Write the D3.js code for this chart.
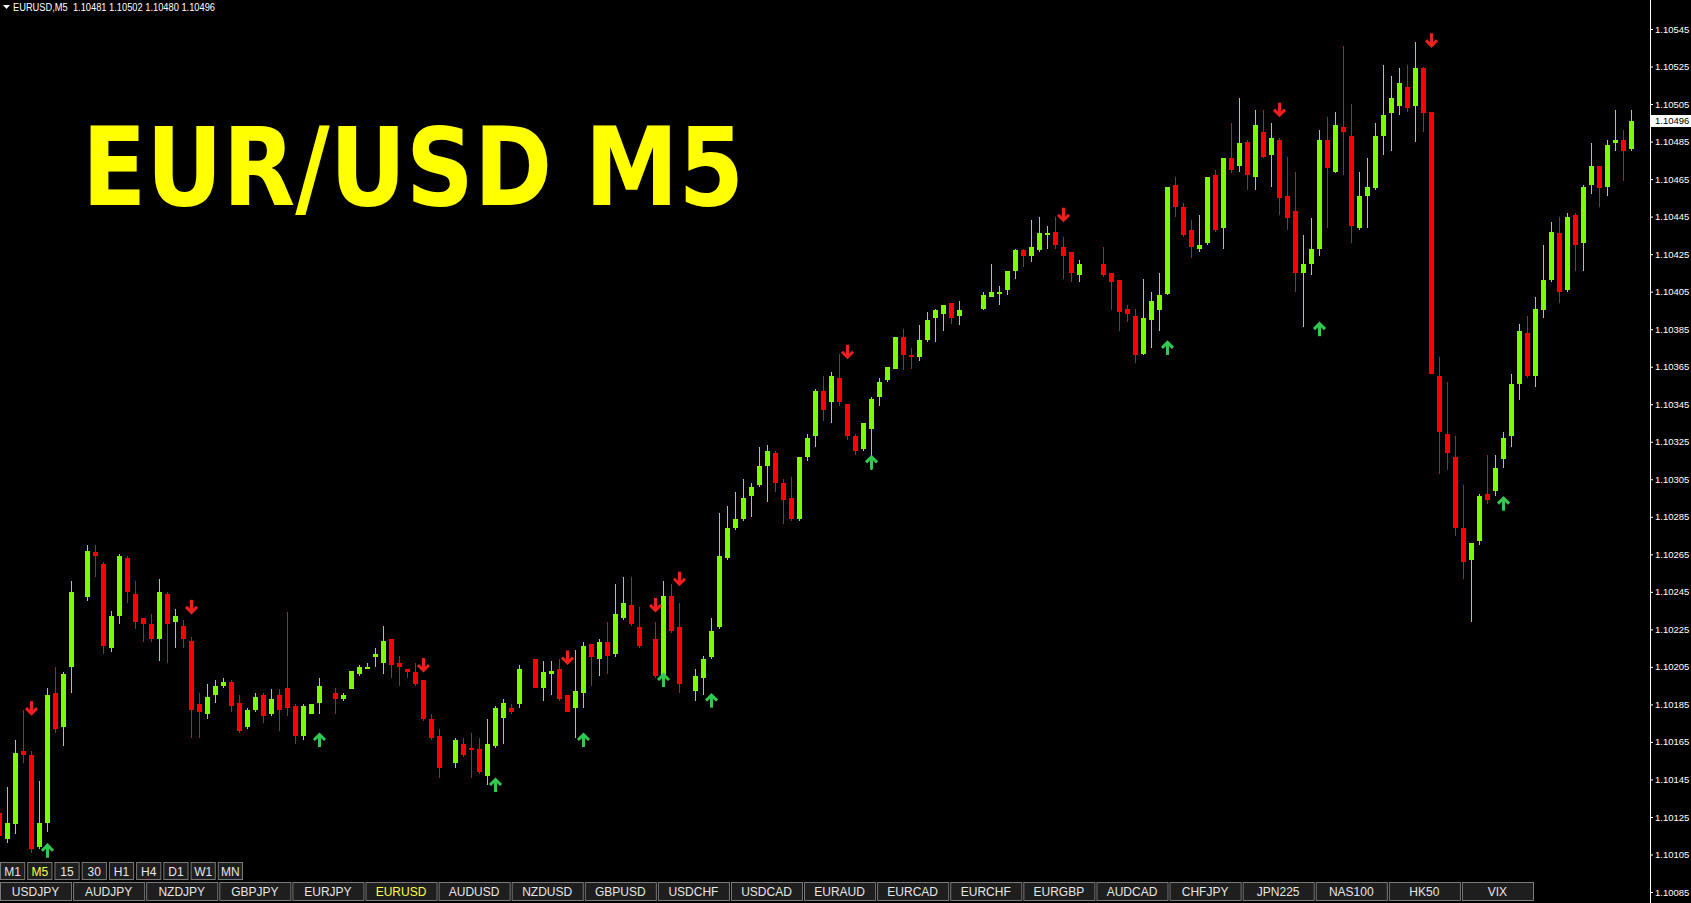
<!DOCTYPE html>
<html>
<head>
<meta charset="utf-8">
<script src="https://cdn.jsdelivr.net/npm/d3@7"></script>
<style>
  html, body { margin: 0; padding: 0; background: #000; overflow: hidden; }
  svg { display: block; }
  text { white-space: pre; }
</style>
</head>
<body>
<div id="chart"></div>
<script>
// EURUSD M5 bars, left to right (null = empty slot on the chart)
var opens = [
  1.10127,1.10113,1.10121,1.10160,1.10158,1.10109,1.10122,1.10191,1.10173,1.10205,
  null,1.10242,1.10266,1.10260,1.10215,1.10232,1.10263,1.10244,1.10231,1.10228,
  1.10220,1.10244,1.10229,1.10227,1.10219,1.10185,1.10180,1.10190,1.10195,1.10197,
  1.10186,1.10173,1.10182,1.10190,1.10180,1.10190,1.10194,1.10184,1.10168,1.10180,
  1.10186,null,1.10191,1.10188,1.10193,1.10201,1.10205,1.10210,1.10207,1.10220,
  1.10207,1.10204,1.10202,1.10198,1.10177,1.10168,null,1.10154,1.10164,1.10162,
  1.10161,1.10147,1.10163,1.10178,1.10183,1.10185,null,1.10209,1.10194,1.10201,
  1.10204,1.10190,1.10183,1.10191,1.10217,1.10209,1.10218,1.10212,1.10231,1.10238,
  1.10226,null,1.10220,1.10200,1.10243,1.10226,null,1.10192,1.10199,1.10210,
  1.10226,1.10263,1.10279,1.10284,1.10296,1.10302,1.10312,1.10319,1.10303,1.10295,
  1.10284,1.10317,1.10328,1.10352,1.10346,1.10359,1.10345,1.10328,1.10321,1.10332,
  1.10349,1.10358,1.10364,1.10381,1.10371,1.10370,1.10379,1.10391,1.10393,1.10399,
  1.10392,null,null,1.10396,1.10402,1.10404,1.10406,1.10416,1.10427,1.10424,
  1.10427,1.10435,1.10437,1.10429,1.10426,1.10414,null,null,1.10420,1.10415,
  1.10411,1.10396,1.10392,1.10372,1.10390,1.10395,1.10404,1.10462,1.10450,1.10438,
  1.10428,1.10431,1.10467,1.10439,1.10476,1.10472,1.10485,1.10466,1.10490,1.10478,
  1.10486,1.10456,1.10448,1.10415,1.10420,1.10428,1.10486,1.10469,1.10493,1.10488,
  1.10439,1.10456,1.10460,1.10488,1.10500,1.10504,1.10514,1.10504,1.10524,1.10501,
  1.10360,1.10329,1.10317,1.10279,1.10262,1.10272,1.10297,1.10299,1.10316,1.10328,
  1.10356,1.10383,1.10360,1.10395,1.10411,1.10436,1.10406,1.10446,1.10431,1.10462,
  1.10472,1.10461,1.10484,1.10486,1.10481
];
var highs = [
  1.10131,1.10141,1.10166,1.10182,1.10160,1.10144,1.10194,1.10205,1.10202,1.10251,
  null,1.10270,1.10270,1.10261,1.10235,1.10265,1.10264,1.10251,1.10231,1.10233,
  1.10252,1.10245,1.10236,1.10230,1.10221,1.10191,1.10196,1.10198,1.10199,1.10198,
  1.10190,1.10183,1.10191,1.10191,1.10193,1.10193,1.10234,1.10185,1.10185,1.10185,
  1.10199,null,1.10194,1.10191,1.10203,1.10206,1.10207,1.10215,1.10227,1.10220,
  1.10211,1.10204,1.10207,1.10198,1.10180,1.10172,null,1.10167,1.10167,1.10170,
  1.10167,1.10177,1.10184,1.10188,1.10185,1.10206,null,1.10209,1.10208,1.10208,
  1.10209,1.10190,1.10214,1.10218,1.10217,1.10220,1.10229,1.10249,1.10253,1.10253,
  1.10237,null,1.10229,1.10251,1.10249,1.10239,null,1.10204,1.10211,1.10231,
  1.10287,1.10291,1.10298,1.10305,1.10303,1.10322,1.10323,1.10320,1.10305,1.10306,
  1.10317,1.10329,1.10353,1.10360,1.10362,1.10372,1.10345,1.10329,1.10335,1.10349,
  1.10359,1.10365,1.10381,1.10385,1.10375,1.10387,1.10394,1.10396,1.10398,1.10399,
  1.10400,null,null,1.10405,1.10420,1.10408,1.10416,1.10428,1.10428,1.10443,
  1.10445,1.10440,1.10445,1.10434,1.10426,1.10422,null,null,1.10429,1.10415,
  1.10411,1.10398,1.10396,1.10412,1.10405,1.10415,1.10461,1.10466,1.10452,1.10443,
  1.10446,1.10466,1.10470,1.10476,1.10495,1.10508,1.10486,1.10502,1.10502,1.10495,
  1.10487,1.10477,1.10469,1.10435,1.10444,1.10491,1.10498,1.10501,1.10536,1.10505,
  1.10469,1.10476,1.10495,1.10526,1.10520,1.10524,1.10526,1.10538,1.10525,1.10501,
  1.10370,1.10357,1.10328,1.10302,1.10271,1.10297,1.10318,1.10318,1.10330,1.10361,
  1.10388,1.10392,1.10402,1.10430,1.10442,1.10445,1.10447,1.10447,1.10462,1.10484,
  1.10472,1.10486,1.10502,1.10491,1.10502
];
var lows = [
  1.10112,1.10111,1.10116,1.10154,1.10106,1.10108,1.10117,1.10170,1.10163,1.10191,
  null,1.10240,1.10253,1.10212,1.10213,1.10228,1.10239,1.10225,1.10218,1.10218,
  1.10208,1.10207,1.10215,1.10215,1.10167,1.10167,1.10177,1.10186,1.10194,1.10181,
  1.10170,1.10172,1.10181,1.10175,1.10179,1.10171,1.10179,1.10164,1.10166,1.10180,
  1.10180,null,1.10180,1.10187,1.10193,1.10200,1.10204,1.10205,1.10201,1.10199,
  1.10195,1.10199,1.10195,1.10176,1.10166,1.10146,null,1.10151,1.10157,1.10146,
  1.10148,1.10142,1.10162,1.10164,1.10180,1.10183,null,1.10194,1.10187,1.10190,
  1.10187,1.10181,1.10167,1.10183,1.10195,1.10200,1.10201,1.10210,1.10230,1.10227,
  1.10215,null,1.10199,1.10199,1.10223,1.10191,null,1.10187,1.10190,1.10209,
  1.10225,1.10262,1.10278,1.10283,1.10285,1.10301,1.10293,1.10298,1.10281,1.10283,
  1.10283,1.10315,1.10322,1.10336,1.10335,1.10344,1.10326,1.10318,1.10320,1.10310,
  1.10344,1.10357,1.10364,1.10363,1.10364,1.10368,1.10378,1.10378,1.10384,1.10388,
  1.10387,null,null,1.10395,1.10402,1.10398,1.10403,1.10412,1.10418,1.10421,
  1.10426,1.10428,1.10428,1.10412,1.10410,1.10410,null,null,1.10413,1.10395,
  1.10384,1.10389,1.10367,1.10371,1.10375,1.10384,1.10403,1.10445,1.10434,1.10423,
  1.10426,1.10430,1.10437,1.10428,1.10468,1.10469,1.10459,1.10459,1.10476,1.10461,
  1.10446,1.10438,1.10405,1.10386,1.10414,1.10424,1.10439,1.10468,1.10467,1.10431,
  1.10438,1.10439,1.10459,1.10478,1.10480,1.10499,1.10501,1.10485,1.10490,1.10361,
  1.10308,1.10310,1.10275,1.10252,1.10229,1.10270,1.10292,1.10296,1.10311,1.10322,
  1.10347,1.10359,1.10354,1.10391,1.10410,1.10399,1.10405,1.10416,1.10416,1.10457,
  1.10450,1.10456,1.10480,1.10464,1.10480
];
var closes = [
  1.10115,1.10122,1.10159,1.10158,1.10108,1.10122,1.10190,1.10172,1.10201,1.10245,
  null,1.10267,1.10264,1.10216,1.10232,1.10264,1.10245,1.10229,1.10228,1.10220,
  1.10245,1.10228,1.10232,1.10220,1.10182,1.10181,1.10189,1.10195,1.10197,1.10184,
  1.10171,1.10182,1.10189,1.10179,1.10188,1.10182,1.10183,1.10168,1.10184,1.10185,
  1.10195,null,1.10188,1.10190,1.10203,1.10205,1.10205,1.10212,1.10219,1.10206,
  1.10205,1.10202,1.10196,1.10177,1.10167,1.10151,null,1.10166,1.10158,1.10161,
  1.10149,1.10164,1.10183,1.10186,1.10181,1.10204,null,1.10194,1.10202,1.10203,
  1.10188,1.10181,1.10192,1.10216,1.10210,1.10218,1.10211,1.10233,1.10239,1.10228,
  1.10216,null,1.10200,1.10243,1.10224,1.10196,null,1.10200,1.10209,1.10224,
  1.10264,1.10279,1.10284,1.10295,1.10301,1.10312,1.10320,1.10303,1.10294,1.10284,
  1.10317,1.10327,1.10352,1.10342,1.10360,1.10346,1.10328,1.10320,1.10335,1.10348,
  1.10357,1.10365,1.10381,1.10371,1.10370,1.10379,1.10390,1.10395,1.10398,1.10391,
  1.10395,null,null,1.10403,1.10405,1.10405,1.10416,1.10427,1.10424,1.10429,
  1.10436,1.10436,1.10430,1.10424,1.10415,1.10420,null,null,1.10414,1.10410,
  1.10394,1.10393,1.10371,1.10391,1.10400,1.10403,1.10461,1.10450,1.10435,1.10429,
  1.10430,1.10466,1.10438,1.10476,1.10470,1.10484,1.10467,1.10494,1.10477,1.10487,
  1.10455,1.10444,1.10415,1.10420,1.10428,1.10486,1.10471,1.10494,1.10490,1.10440,
  1.10456,1.10461,1.10488,1.10499,1.10508,1.10516,1.10503,1.10524,1.10500,1.10361,
  1.10330,1.10319,1.10279,1.10261,1.10271,1.10296,1.10294,1.10311,1.10327,1.10356,
  1.10384,1.10360,1.10396,1.10411,1.10437,1.10405,1.10445,1.10430,1.10461,1.10472,
  1.10460,1.10483,1.10486,1.10480,1.10496
];

// signal arrows: bar index and price level
var downArrowBars = [4, 24, 53, 71, 82, 85, 106, 133, 160, 179];
var downArrowPrices = [1.10183, 1.10237, 1.10206, 1.10210, 1.10238, 1.10252, 1.10373, 1.10446, 1.10502, 1.10539];
var upArrowBars = [6, 40, 62, 73, 83, 89, 109, 146, 165, 188];
var upArrowPrices = [1.10107, 1.10166, 1.10142, 1.10166, 1.10198, 1.10187, 1.10314, 1.10375, 1.10385, 1.10292];

// price axis labels
var priceTicks = [1.10085,1.10105,1.10125,1.10145,1.10165,1.10185,1.10205,1.10225,1.10245,1.10265,
  1.10285,1.10305,1.10325,1.10345,1.10365,1.10385,1.10405,1.10425,1.10445,1.10465,1.10485,1.10505,1.10525,1.10545];
var lastPrice = 1.10496;
var headerText = "EURUSD,M5  1.10481 1.10502 1.10480 1.10496";
var titleText = "EUR/USD M5";

var timeframes = ["M1", "M5", "15", "30", "H1", "H4", "D1", "W1", "MN"];
var symbols = ["USDJPY", "AUDJPY", "NZDJPY", "GBPJPY", "EURJPY", "EURUSD", "AUDUSD", "NZDUSD", "GBPUSD", "USDCHF",
  "USDCAD", "EURAUD", "EURCAD", "EURCHF", "EURGBP", "AUDCAD", "CHFJPY", "JPN225", "NAS100", "HK50", "VIX"];

var W = 1691, H = 903;
var axisX = 1650;
var bull = "#7cfc00", bear = "#ff0000";

var svg = d3.select("#chart").append("svg")
  .attr("width", W)
  .attr("height", H)
  .style("background", "#000");

svg.append("rect").attr("width", W).attr("height", H).attr("fill", "#000");

var x = d3.scaleLinear().domain([0, opens.length - 1]).range([-0.5, 1631.5]);
var y = d3.scaleLinear().domain([1.10085, 1.10545]).range([892, 29]);

var bars = d3.range(opens.length).filter(function(i) { return opens[i] != null; });

// candles
var candle = svg.append("g").attr("class", "candles").attr("shape-rendering", "crispEdges")
  .selectAll("g")
  .data(bars)
  .enter().append("g")
  .attr("fill", function(i) { return closes[i] >= opens[i] ? bull : bear; });

candle.append("rect")
  .attr("x", function(i) { return x(i) - 0.5; })
  .attr("width", 1)
  .attr("y", function(i) { return Math.round(y(highs[i])); })
  .attr("height", function(i) { return Math.max(1, Math.round(y(lows[i])) - Math.round(y(highs[i]))); });

candle.append("rect")
  .attr("x", function(i) { return x(i) - 2.5; })
  .attr("width", 5)
  .attr("y", function(i) { return Math.round(y(Math.max(opens[i], closes[i]))); })
  .attr("height", function(i) {
    return Math.max(2, Math.round(y(Math.min(opens[i], closes[i]))) - Math.round(y(Math.max(opens[i], closes[i]))));
  });

// arrows
var arrows = svg.append("g").attr("class", "arrows")
  .attr("fill", "none").attr("stroke-width", 3);

downArrowBars.forEach(function(b, k) {
  var cx = x(b), cy = y(downArrowPrices[k]);
  var g = arrows.append("g").attr("stroke", "#f0201e");
  g.append("line").attr("x1", cx).attr("x2", cx).attr("y1", cy - 7).attr("y2", cy + 5);
  g.append("polyline").attr("points", [[cx - 5.5, cy], [cx, cy + 5.5], [cx + 5.5, cy]].join(" "))
    .attr("stroke-linejoin", "miter");
});

upArrowBars.forEach(function(b, k) {
  var cx = x(b), cy = y(upArrowPrices[k]);
  var g = arrows.append("g").attr("stroke", "#35c850");
  g.append("line").attr("x1", cx).attr("x2", cx).attr("y1", cy + 7).attr("y2", cy - 5);
  g.append("polyline").attr("points", [[cx - 5.5, cy], [cx, cy - 5.5], [cx + 5.5, cy]].join(" "))
    .attr("stroke-linejoin", "miter");
});

// header text
svg.append("path").attr("d", "M3,5 L10,5 L6.5,9 Z").attr("fill", "#fff");
svg.append("text")
  .attr("x", 13).attr("y", 11)
  .attr("fill", "#fff")
  .style("font-family", "'Liberation Sans', Arial, sans-serif")
  .style("font-size", "10px")
  .attr("textLength", 202)
  .attr("lengthAdjust", "spacingAndGlyphs")
  .text(headerText);

// big title
svg.append("text")
  .attr("x", 82).attr("y", 205)
  .attr("fill", "#ffff00")
  .style("font-family", "'DejaVu Sans', Verdana, sans-serif")
  .style("font-weight", "bold")
  .style("font-size", "108px")
  .attr("textLength", 662)
  .attr("lengthAdjust", "spacingAndGlyphs")
  .text(titleText);

// price axis
var axis = svg.append("g")
  .attr("transform", "translate(" + axisX + ",0)")
  .call(d3.axisRight(y).tickValues(priceTicks).tickSize(3).tickPadding(2).tickFormat(d3.format(".5f")));
axis.select(".domain").remove();
axis.selectAll("line").attr("stroke", "#fff");
axis.selectAll("text")
  .attr("fill", "#fff")
  .style("font-family", "'Liberation Sans', Arial, sans-serif")
  .style("font-size", "9.5px");

svg.append("line")
  .attr("x1", axisX + 0.5).attr("x2", axisX + 0.5)
  .attr("y1", 0).attr("y2", H)
  .attr("stroke", "#fff").attr("stroke-width", 1);

// last price label
svg.append("rect")
  .attr("x", axisX + 1).attr("y", Math.round(y(lastPrice)) - 6)
  .attr("width", W - axisX - 1).attr("height", 12)
  .attr("fill", "#fff");
svg.append("text")
  .attr("x", axisX + 5).attr("y", y(lastPrice))
  .attr("dy", "0.35em")
  .attr("fill", "#000")
  .style("font-family", "'Liberation Sans', Arial, sans-serif")
  .style("font-size", "9.5px")
  .text(d3.format(".5f")(lastPrice));

// timeframe buttons
var tf = d3.scaleBand().domain(timeframes).range([0, 242]).paddingInner(0.11);
var tfBtn = svg.append("g").selectAll("g")
  .data(timeframes)
  .enter().append("g")
  .attr("transform", function(d) { return "translate(" + tf(d) + ",862)"; });
tfBtn.append("rect")
  .attr("x", 0.5).attr("y", 0.5)
  .attr("width", tf.bandwidth()).attr("height", 17)
  .attr("fill", "#1e1e1e").attr("stroke", "#7a7a7a");
tfBtn.append("text")
  .attr("x", tf.bandwidth() / 2 + 0.5).attr("y", 9.5)
  .attr("dy", "0.35em")
  .attr("text-anchor", "middle")
  .attr("fill", function(d) { return d === "M5" ? "#ffff40" : "#e6e6e6"; })
  .style("font-family", "'Liberation Sans', Arial, sans-serif")
  .style("font-size", "12px")
  .text(function(d) { return d; });

// symbol tabs
var tab = d3.scaleBand().domain(symbols).range([0, 73 * symbols.length]).paddingInner(2 / 73);
var tabs = svg.append("g").selectAll("g")
  .data(symbols)
  .enter().append("g")
  .attr("transform", function(d) { return "translate(" + tab(d) + ",882)"; });
tabs.append("rect")
  .attr("x", 0.5).attr("y", 0.5)
  .attr("width", tab.bandwidth()).attr("height", 18)
  .attr("fill", "#1e1e1e").attr("stroke", "#7a7a7a");
tabs.append("text")
  .attr("x", tab.bandwidth() / 2).attr("y", 10)
  .attr("dy", "0.35em")
  .attr("text-anchor", "middle")
  .attr("fill", function(d) { return d === "EURUSD" ? "#ffff40" : "#e6e6e6"; })
  .style("font-family", "'Liberation Sans', Arial, sans-serif")
  .style("font-size", "12px")
  .text(function(d) { return d; });
</script>
</body>
</html>
